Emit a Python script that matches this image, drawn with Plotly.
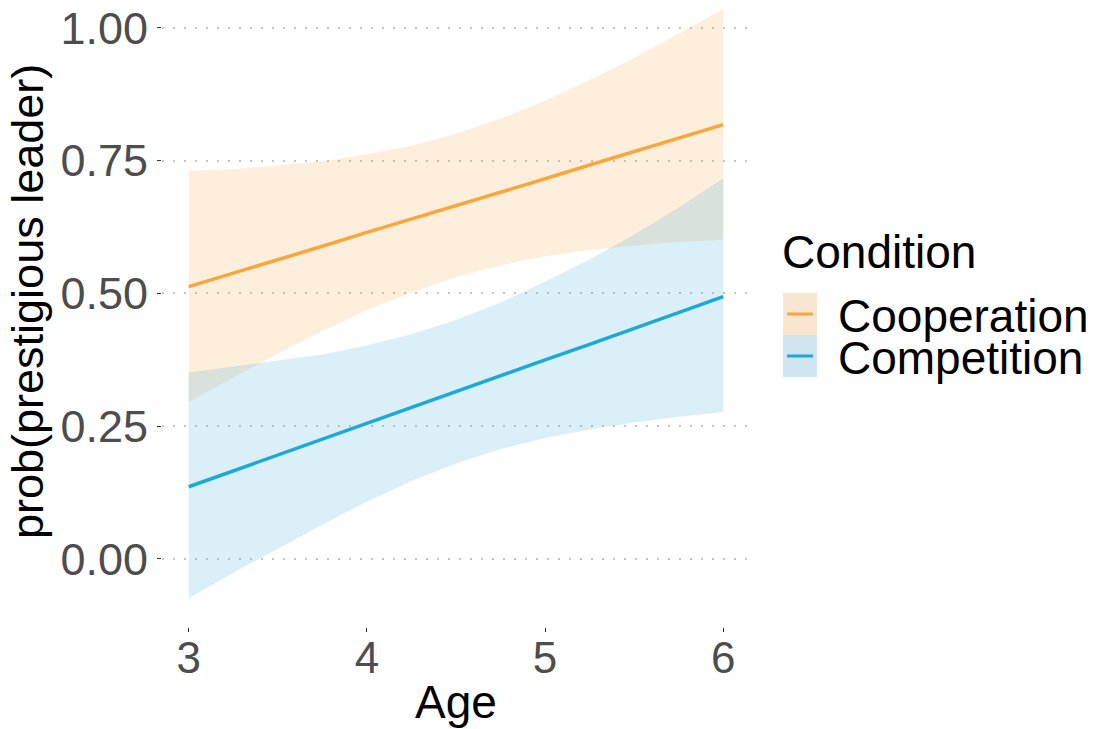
import plotly.graph_objects as go

# ---- data ----
age = [3.0, 3.25, 3.5, 3.75, 4.0, 4.25, 4.5, 4.75, 5.0, 5.25, 5.5, 5.75, 6.0]

coop_fit   = [0.513, 0.538, 0.564, 0.589, 0.615, 0.640, 0.666, 0.691, 0.716, 0.742, 0.767, 0.793, 0.818]
coop_upper = [0.731, 0.734, 0.741, 0.749, 0.762, 0.778, 0.801, 0.829, 0.863, 0.902, 0.944, 0.989, 1.036]
coop_lower = [0.295, 0.342, 0.387, 0.429, 0.469, 0.502, 0.531, 0.553, 0.570, 0.582, 0.590, 0.597, 0.601]

comp_fit   = [0.136, 0.166, 0.196, 0.225, 0.255, 0.285, 0.315, 0.345, 0.375, 0.404, 0.434, 0.464, 0.494]
comp_upper = [0.351, 0.362, 0.373, 0.385, 0.402, 0.423, 0.450, 0.483, 0.522, 0.564, 0.611, 0.662, 0.717]
comp_lower = [-0.074, -0.026, 0.019, 0.065, 0.108, 0.147, 0.180, 0.207, 0.228, 0.244, 0.257, 0.268, 0.277]

conditions = ["Cooperation", "Competition"]
x_ticks = [3, 4, 5, 6]
y_ticks = [0.00, 0.25, 0.50, 0.75, 1.00]
y_tick_text = ["0.00", "0.25", "0.50", "0.75", "1.00"]

ORANGE = "#F9A63C"
BLUE = "#1CA9D7"
ORANGE_FILL = "rgba(249,166,60,0.18)"
BLUE_FILL = "rgba(60,170,215,0.19)"
ORANGE_KEY = "rgba(240,170,100,0.30)"
BLUE_KEY = "rgba(90,160,200,0.28)"

FONT = "Liberation Sans, Arial, sans-serif"

# plot panel in pixels
PL, PR, PT, PB = 162, 750, 0, 627

fig = go.Figure()

series = [
    (coop_fit, coop_lower, coop_upper, ORANGE, ORANGE_FILL, ORANGE_KEY),
    (comp_fit, comp_lower, comp_upper, BLUE, BLUE_FILL, BLUE_KEY),
]

for fit, lo, up, col, fill, key in series:
    fig.add_trace(go.Scatter(x=age, y=lo, mode="lines", line=dict(width=0, color=fill),
                             showlegend=False, hoverinfo="skip"))
    fig.add_trace(go.Scatter(x=age, y=up, mode="lines", line=dict(width=0, color=fill),
                             fill="tonexty", fillcolor=fill, showlegend=False, hoverinfo="skip"))

for (fit, lo, up, col, fill, key), name in zip(series, conditions):
    fig.add_trace(go.Scatter(x=age, y=fit, mode="lines", name=name,
                             line=dict(color=col, width=3.5), showlegend=False))

def px_x(px):
    return (px - PL) / float(PR - PL)

def px_y(py):
    return (PB - py) / float(PB - PT)

shapes = []
annotations = []
# axis titles
annotations.append(dict(text="Age", x=px_x(456), y=px_y(702), xref="paper", yref="paper",
                        xanchor="center", yanchor="middle", showarrow=False,
                        font=dict(family=FONT, size=46, color="black")))
annotations.append(dict(text="prob(prestigious leader)", x=px_x(27), y=px_y(302), xref="paper", yref="paper",
                        xanchor="center", yanchor="middle", showarrow=False, textangle=-90,
                        font=dict(family=FONT, size=45, color="black")))
# legend
annotations.append(dict(text="Condition", x=px_x(780), y=px_y(252), xref="paper", yref="paper",
                        xanchor="left", yanchor="middle", showarrow=False,
                        font=dict(family=FONT, size=46, color="black")))
key_tops = [293, 335]
for (fit, lo, up, col, fill, key), name, top in zip(series, conditions, key_tops):
    shapes.append(dict(type="rect", xref="paper", yref="paper",
                       x0=px_x(783), x1=px_x(817), y0=px_y(top + 42), y1=px_y(top),
                       fillcolor=key, line=dict(width=0), layer="above"))
    shapes.append(dict(type="line", xref="paper", yref="paper",
                       x0=px_x(787), x1=px_x(813), y0=px_y(top + 21), y1=px_y(top + 21),
                       line=dict(color=col, width=3), layer="above"))
    annotations.append(dict(text=name, x=px_x(836), y=px_y(top + 23), xref="paper", yref="paper",
                            xanchor="left", yanchor="middle", showarrow=False,
                            font=dict(family=FONT, size=46, color="black")))

fig.update_layout(
    width=1095, height=729,
    margin=dict(l=PL, r=1095 - PR, t=PT, b=729 - PB, autoexpand=False),
    paper_bgcolor="white", plot_bgcolor="white",
    font=dict(family=FONT, color="black"),
    shapes=shapes, annotations=annotations,
    showlegend=False,
)

fig.update_xaxes(
    range=[2.85, 6.15], tickvals=x_ticks, ticktext=[str(t) for t in x_ticks],
    showgrid=False, zeroline=False, showline=False, automargin=False,
    ticks="outside", ticklen=4, tickwidth=1, tickcolor="#333333",
    ticklabelstandoff=-12,
    tickfont=dict(family=FONT, size=44, color="#4D4D4D"),
)
fig.update_yaxes(
    range=[-0.1281, 1.0527], tickvals=y_ticks, ticktext=y_tick_text,
    showgrid=True, gridcolor="#C4C4C4", gridwidth=2, griddash="2px,9px",
    zeroline=False, showline=False, automargin=False,
    ticks="outside", ticklen=4, tickwidth=1, tickcolor="#333333",
    tickfont=dict(family=FONT, size=45, color="#4D4D4D"),
)

fig.write_html("out.html",
               config={"displayModeBar": False},
               post_script="document.body.style.margin='0';document.body.style.overflow='hidden';")
